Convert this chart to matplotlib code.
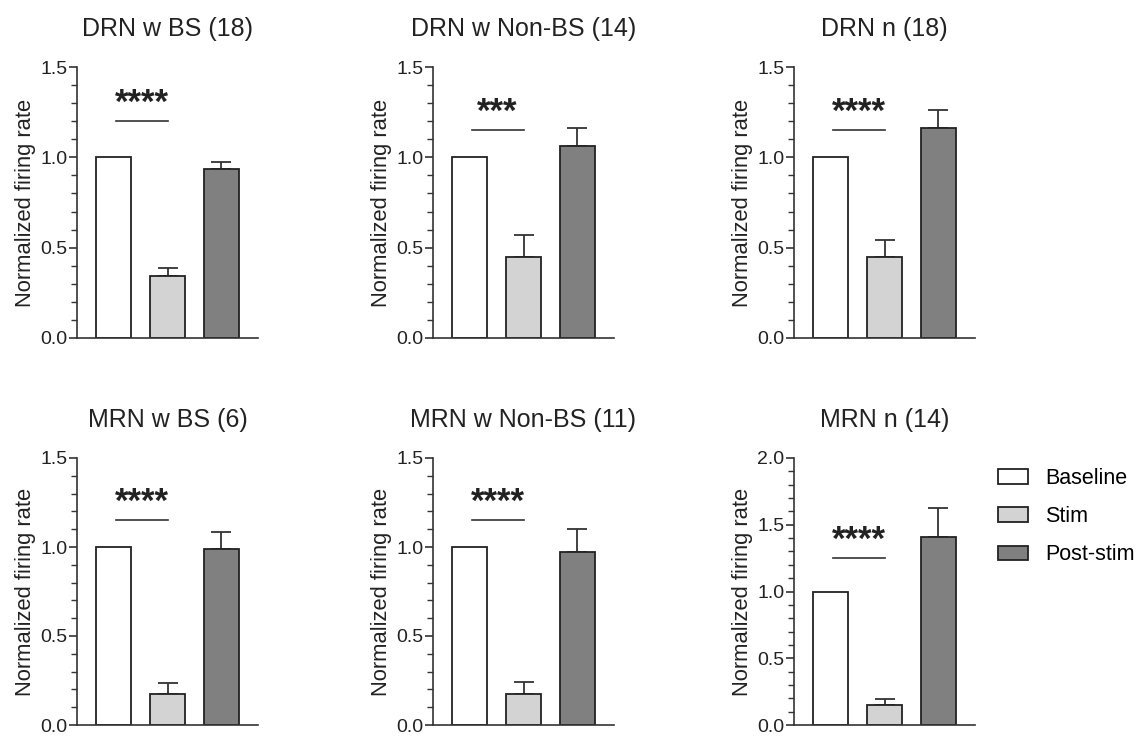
import matplotlib.pyplot as plt
from matplotlib.ticker import MultipleLocator

plt.rcParams['font.family'] = ['Liberation Sans', 'DejaVu Sans']

# Data
titles = ['DRN w BS (18)', 'DRN w Non-BS (14)', 'DRN n (18)',
          'MRN w BS (6)', 'MRN w Non-BS (11)', 'MRN n (14)']
groups = ['Baseline', 'Stim', 'Post-stim']
baseline = [1.0, 1.0, 1.0, 1.0, 1.0, 1.0]
stim_mean = [0.343, 0.448, 0.448, 0.175, 0.175, 0.148]
stim_err = [0.043, 0.12, 0.092, 0.059, 0.065, 0.049]
post_mean = [0.937, 1.062, 1.16, 0.988, 0.974, 1.41]
post_err = [0.035, 0.098, 0.10, 0.094, 0.126, 0.215]
ymax = [1.5, 1.5, 1.5, 1.5, 1.5, 2.0]
sig_text = ['****', '***', '****', '****', '****', '****']
sig_y = [1.2, 1.15, 1.15, 1.15, 1.15, 1.25]

colors = ['white', '#d3d3d3', '#808080']
ink = '#222222'

fig = plt.figure(figsize=(11.37, 7.36), dpi=100)

lefts = [77, 433, 794]
# (bottom edge, height) in pixels for the two rows
rows = [(338, 271), (725, 267)]
w = 181

for i in range(6):
    r, c = divmod(i, 3)
    bot, h = rows[r]
    ax = fig.add_axes([lefts[c] / 1137, 1 - bot / 736, w / 1137, h / 736])

    vals = [baseline[i], stim_mean[i], post_mean[i]]
    bars = ax.bar([0, 1, 2], vals, width=0.65, color=colors, edgecolor=ink,
                  linewidth=1.3, zorder=2)
    ax.errorbar([1, 2], [stim_mean[i], post_mean[i]],
                yerr=[[0, 0], [stim_err[i], post_err[i]]],
                fmt='none', ecolor='#333333', elinewidth=1.3,
                capsize=7, capthick=1.3, zorder=1)

    # significance bar Baseline vs Stim
    ax.plot([0.05, 1.0], [sig_y[i], sig_y[i]], color='#333333', lw=1.2)
    ax.annotate(sig_text[i], (0.52, sig_y[i]), xytext=(0, 6),
                textcoords='offset points', ha='center', va='baseline',
                fontsize=25, fontweight='bold', color=ink)

    ax.set_xlim(-0.68, 2.68)
    ax.set_ylim(0, ymax[i])
    ax.yaxis.set_major_locator(MultipleLocator(0.5))
    ax.yaxis.set_minor_locator(MultipleLocator(0.1))
    ax.yaxis.set_major_formatter(plt.FormatStrFormatter('%.1f'))
    ax.set_xticks([])
    ax.spines['top'].set_visible(False)
    ax.spines['right'].set_visible(False)
    for s in ['left', 'bottom']:
        ax.spines[s].set_color('#333333')
        ax.spines[s].set_linewidth(1.2)
    ax.tick_params(axis='y', which='major', length=6, width=1.2,
                   color='#333333', labelsize=14, pad=1, labelcolor=ink)
    ax.tick_params(axis='y', which='minor', length=4, width=1.0,
                   color='#333333')
    ax.set_ylabel('Normalized firing rate', fontsize=15.8, color=ink, labelpad=3)
    ax.set_title(titles[i], fontsize=18, pad=22, color=ink)

handles = bars.patches
fig.legend(handles, groups, loc='upper left',
           bbox_to_anchor=(998 / 1137, 1 - 468 / 736), frameon=False,
           fontsize=15.5, handlelength=1.4, handleheight=0.65,
           handletextpad=0.8, labelspacing=0.8, borderpad=0,
           borderaxespad=0)

fig.savefig('out.png', dpi=100)
